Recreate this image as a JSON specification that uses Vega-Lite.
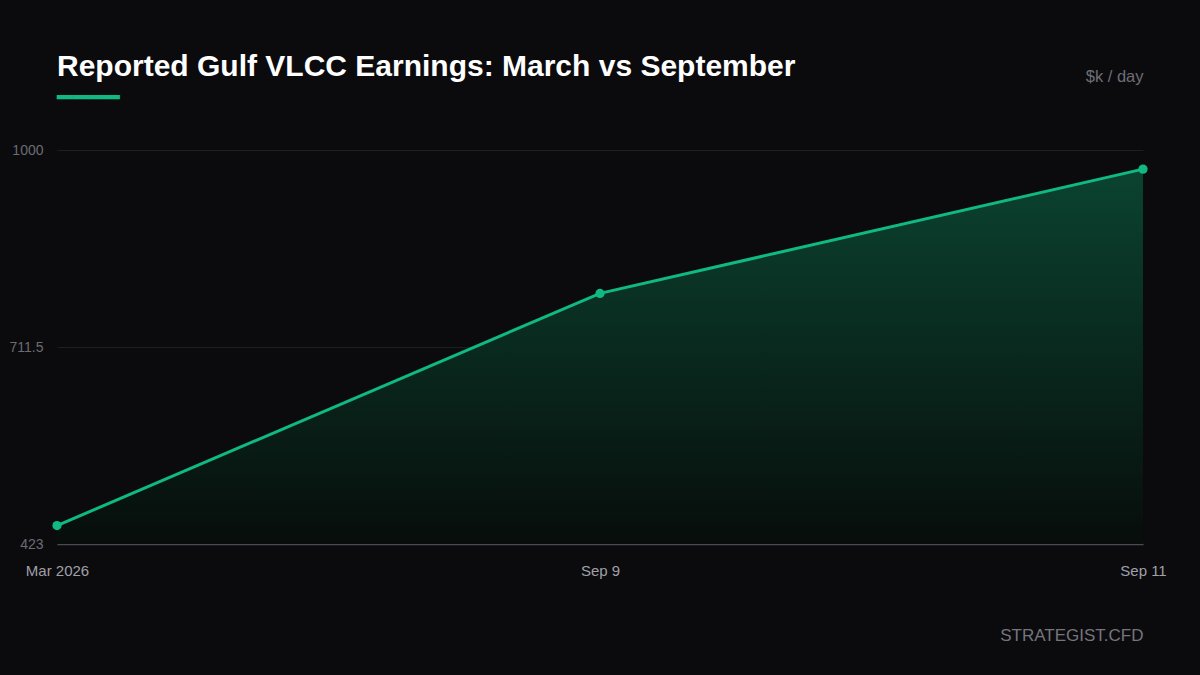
{
  "$schema": "https://vega.github.io/schema/vega-lite/v6.json",
  "autosize": {"type": "none"},
  "width": 1086,
  "height": 394,
  "padding": {"left": 57, "top": 150, "right": 57, "bottom": 131},
  "background": "#0b0b0e",
  "title": {
    "text": "Reported Gulf VLCC Earnings: March vs September",
    "subtitle": "━━━━",
    "anchor": "start",
    "frame": "group",
    "font": "Liberation Sans",
    "fontSize": 30,
    "fontWeight": "bold",
    "color": "#ffffff",
    "subtitleFont": "DejaVu Sans",
    "subtitleFontSize": 26,
    "subtitleColor": "#10b981",
    "subtitlePadding": 3,
    "offset": 40,
    "dy": 83
  },
  "data": {
    "values": [
      {"period": "Mar 2026", "earnings": 450},
      {"period": "Sep 9", "earnings": 790},
      {"period": "Sep 11", "earnings": 972}
    ]
  },
  "encoding": {
    "x": {
      "field": "period",
      "type": "ordinal",
      "sort": null,
      "scale": {"type": "point", "padding": 0},
      "axis": {
        "title": "STRATEGIST.CFD",
        "titleX": 1086,
        "titleY": 91,
        "titleAlign": "right",
        "titleBaseline": "middle",
        "titleFont": "Liberation Sans",
        "titleFontSize": 17,
        "titleFontWeight": "normal",
        "titleColor": "#75757d",
        "labelAngle": 0,
        "labelFont": "Liberation Sans",
        "labelFontSize": 15,
        "labelColor": "#a0a0a8",
        "labelPadding": 19,
        "ticks": false,
        "grid": false,
        "domain": true,
        "domainColor": "#4a4a52",
        "domainWidth": 1.5
      }
    },
    "y": {
      "field": "earnings",
      "type": "quantitative",
      "scale": {"domain": [423, 1000], "zero": false, "nice": false},
      "axis": {
        "values": [423, 711.5, 1000],
        "labelExpr": "'' + datum.value",
        "title": "$k / day",
        "titleAngle": 0,
        "titleX": 1086,
        "titleY": -74,
        "titleAlign": "right",
        "titleBaseline": "middle",
        "titleFont": "Liberation Sans",
        "titleFontSize": 16.5,
        "titleFontWeight": "normal",
        "titleColor": "#6e6e76",
        "labelFont": "Liberation Sans",
        "labelFontSize": 14,
        "labelColor": "#6b6b73",
        "labelPadding": 14,
        "ticks": false,
        "domain": false,
        "gridColor": "#1d1d22",
        "gridWidth": 1
      }
    }
  },
  "layer": [
    {
      "mark": {
        "type": "area",
        "color": {
          "gradient": "linear",
          "x1": 0, "y1": 0, "x2": 0, "y2": 1,
          "stops": [
            {"offset": 0, "color": "#0b4330"},
            {"offset": 1, "color": "#070d0b"}
          ]
        }
      },
      "encoding": {"y2": {"datum": 423}}
    },
    {
      "mark": {"type": "line", "color": "#10b981", "strokeWidth": 3}
    },
    {
      "mark": {"type": "point", "filled": true, "color": "#10b981", "size": 85, "opacity": 1}
    }
  ],
  "config": {"view": {"stroke": null}}
}
